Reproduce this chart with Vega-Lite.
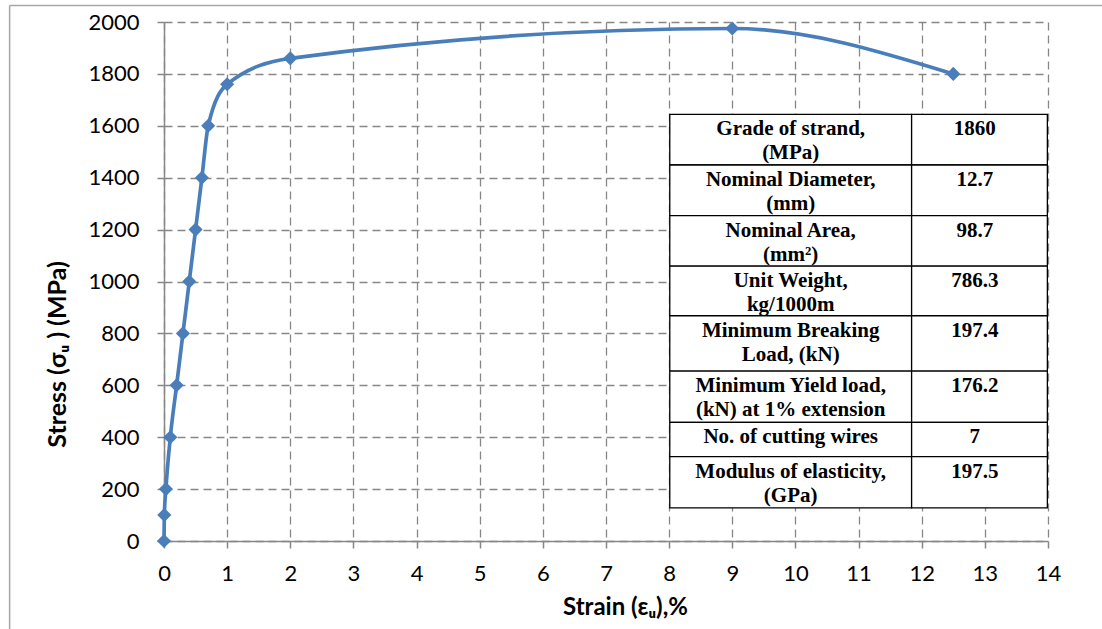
{
  "$schema": "https://vega.github.io/schema/vega-lite/v6.json",
  "autosize": {"type": "none"},
  "width": 884,
  "height": 519,
  "padding": {"left": 164, "top": 22, "right": 54, "bottom": 88},
  "background": "white",
  "config": {
    "view": {"stroke": null},
    "font": "Lato",
    "axis": {
      "grid": true,
      "gridColor": "#878787",
      "gridDash": [8, 5],
      "gridWidth": 1.3,
      "domainColor": "#878787",
      "domainWidth": 1.5,
      "tickColor": "#878787",
      "tickWidth": 1.5,
      "tickSize": 7,
      "labelFont": "Lato",
      "labelFontSize": 22,
      "labelColor": "#000000",
      "titleFont": "Lato",
      "titleFontSize": 24,
      "titleFontWeight": "bold",
      "titleColor": "#000000"
    }
  },
  "datasets": {
    "curve": [
      {"strain": 0, "stress": 0},
      {"strain": 0.005, "stress": 100},
      {"strain": 0.03, "stress": 200},
      {"strain": 0.1, "stress": 400},
      {"strain": 0.2, "stress": 600},
      {"strain": 0.3, "stress": 800},
      {"strain": 0.4, "stress": 1000},
      {"strain": 0.5, "stress": 1200},
      {"strain": 0.6, "stress": 1400},
      {"strain": 0.7, "stress": 1600},
      {"strain": 1, "stress": 1760},
      {"strain": 2, "stress": 1860},
      {"strain": 9, "stress": 1975},
      {"strain": 12.5, "stress": 1800}
    ],
    "table": [
      {"property": "Grade of strand,|(MPa)", "value": "1860", "top": 1644, "bot": 1449},
      {"property": "Nominal Diameter,|(mm)", "value": "12.7", "top": 1449, "bot": 1254},
      {"property": "Nominal Area,|(mm²)", "value": "98.7", "top": 1254, "bot": 1059},
      {"property": "Unit Weight,|kg/1000m", "value": "786.3", "top": 1059, "bot": 868},
      {"property": "Minimum Breaking|Load, (kN)", "value": "197.4", "top": 868, "bot": 655},
      {"property": "Minimum Yield load,|(kN) at 1% extension", "value": "176.2", "top": 655, "bot": 457},
      {"property": "No. of cutting wires", "value": "7", "top": 457, "bot": 325},
      {"property": "Modulus of elasticity,|(GPa)", "value": "197.5", "top": 325, "bot": 128}
    ],
    "one": [{}]
  },
  "layer": [
    {
      "data": {"name": "one"},
      "mark": {"type": "rule", "color": "#A6A6A6", "strokeWidth": 1.5},
      "encoding": {
        "x": {"datum": -2.445, "type": "quantitative"},
        "y": {"datum": 2064, "type": "quantitative"},
        "y2": {"datum": -500}
      }
    },
    {
      "data": {"name": "one"},
      "mark": {"type": "rule", "color": "#A6A6A6", "strokeWidth": 1.5},
      "encoding": {
        "x": {"datum": -2.445, "type": "quantitative"},
        "x2": {"datum": 16},
        "y": {"datum": 2064, "type": "quantitative"}
      }
    },
    {
      "data": {"name": "curve"},
      "mark": {"type": "line", "interpolate": "monotone", "color": "#4A7EBB", "strokeWidth": 3.7},
      "encoding": {
        "x": {
          "field": "strain", "type": "quantitative", "title": "Strain (εᵤ),%",
          "scale": {"domain": [0, 14], "nice": false, "zero": false},
          "axis": {"values": [0,1,2,3,4,5,6,7,8,9,10,11,12,13,14], "format": "d", "labelPadding": 15, "titleX": 461, "titleY": 54, "titleBaseline": "top", "titleAlign": "center", "labelFlush": false}
        },
        "y": {
          "field": "stress", "type": "quantitative", "title": "Stress (σᵤ ) (MPa)",
          "scale": {"domain": [0, 2000], "nice": false, "zero": false},
          "axis": {"values": [0,200,400,600,800,1000,1200,1400,1600,1800,2000], "format": "d", "labelPadding": 18, "titleX": -107, "titleY": 332, "titleFontSize": 25, "titleBaseline": "middle", "titleAlign": "center", "titleAngle": -90, "labelFlush": false}
        }
      }
    },
    {
      "data": {"name": "curve"},
      "mark": {"type": "point", "shape": "diamond", "filled": true, "opacity": 1, "color": "#4A7EBB", "size": 200},
      "encoding": {
        "x": {"field": "strain", "type": "quantitative", "title": "Strain (εᵤ),%"},
        "y": {"field": "stress", "type": "quantitative", "title": "Stress (σᵤ ) (MPa)"}
      }
    },
    {
      "data": {"name": "table"},
      "mark": {"type": "rect", "fill": "white", "stroke": "#000000", "strokeWidth": 1.3},
      "encoding": {
        "x": {"datum": 8.01, "type": "quantitative"},
        "x2": {"datum": 11.84},
        "y": {"field": "top", "type": "quantitative", "title": "Stress (σᵤ ) (MPa)"},
        "y2": {"field": "bot"}
      }
    },
    {
      "data": {"name": "table"},
      "mark": {"type": "rect", "fill": "white", "stroke": "#000000", "strokeWidth": 1.3},
      "encoding": {
        "x": {"datum": 11.84, "type": "quantitative"},
        "x2": {"datum": 13.99},
        "y": {"field": "top", "type": "quantitative", "title": "Stress (σᵤ ) (MPa)"},
        "y2": {"field": "bot"}
      }
    },
    {
      "data": {"name": "table"},
      "mark": {"type": "text", "font": "Liberation Serif", "fontWeight": "bold", "fontSize": 21, "lineHeight": 24, "lineBreak": "|", "align": "center", "baseline": "top", "dy": 4, "color": "#000000"},
      "encoding": {
        "x": {"datum": 9.925, "type": "quantitative"},
        "y": {"field": "top", "type": "quantitative", "title": "Stress (σᵤ ) (MPa)"},
        "text": {"field": "property"}
      }
    },
    {
      "data": {"name": "table"},
      "mark": {"type": "text", "font": "Liberation Serif", "fontWeight": "bold", "fontSize": 21, "align": "center", "baseline": "top", "dy": 4, "color": "#000000"},
      "encoding": {
        "x": {"datum": 12.84, "type": "quantitative"},
        "y": {"field": "top", "type": "quantitative", "title": "Stress (σᵤ ) (MPa)"},
        "text": {"field": "value"}
      }
    }
  ]
}
